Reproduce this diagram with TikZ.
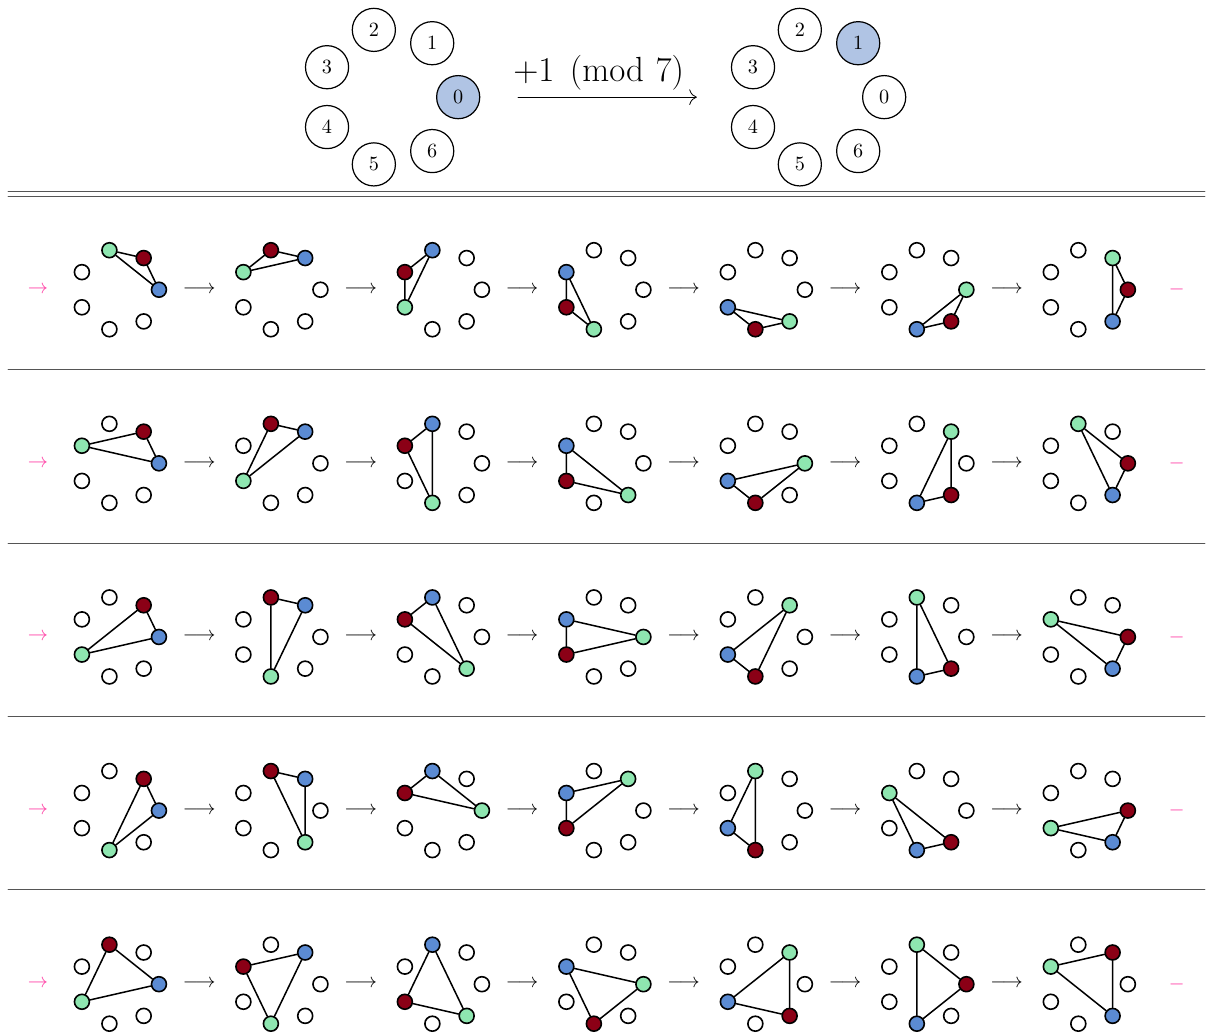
\documentclass[tikz,border=0pt]{standalone}
\usepackage{amsmath}
\usetikzlibrary{arrows.meta}
\definecolor{softblue}{HTML}{B0C4E4}
\definecolor{vblue}{HTML}{5B8BD3}
\definecolor{vred}{HTML}{8B0016}
\definecolor{vgreen}{HTML}{8EE6B0}
\definecolor{wrap}{HTML}{FF3FA4}
\definecolor{rulegray}{HTML}{555555}
\begin{document}
\begin{tikzpicture}[line cap=round,
  bignode/.style={circle, draw, line width=0.6pt, minimum size=0.75cm, inner sep=0pt},
  dot/.style={circle, draw, line width=0.8pt, minimum size=0.26cm, inner sep=0pt},
  edge/.style={line width=0.75pt},
  sep/.style={rulegray, line width=0.5pt}]
  \useasboundingbox (0,0) rectangle (21.1,17.99);
  % top: one step of the rotation
  \foreach \k/\fa/\fb in {0/softblue/white, 1/white/softblue, 2/white/white, 3/white/white, 4/white/white, 5/white/white, 6/white/white}
    {\node[bignode, fill=\fa] (a\k) at ({6.77+1.2*cos(360/7*\k)},{16.30+1.2*sin(360/7*\k)}) {$\k$};
     \node[bignode, fill=\fb] (b\k) at ({14.18+1.2*cos(360/7*\k)},{16.30+1.2*sin(360/7*\k)}) {$\k$};}
  \coordinate (mapL) at (9.01,16.30);
  \coordinate (mapR) at (12.12,16.30);
  \draw[line width=0.4pt, -{To[length=1.3mm]}] (mapL) -- node[above, font=\LARGE, xshift=-1.5mm] (maplbl) {$+1 \pmod 7$} (mapR);
  % rules
  \draw[sep] (0.14,14.65) -- (20.96,14.65);
  \draw[sep] (0.14,14.58) -- (20.96,14.58);
  \foreach \y in {11.57,8.54,5.535,2.51} \draw[sep] (0.14,\y) -- (20.96,\y);
  % rows: a triangle and its six rotations
  \foreach \i/\pb/\pr/\pg in {1/0/1/2, 2/0/1/3, 3/0/1/4, 4/0/1/5, 5/0/2/4}
   {\pgfmathsetmacro{\yy}{12.95-3.02*(\i-1)}
    \node[text=wrap] (in\i) at (0.66,\yy) {$\rightarrow$};
    \node[text=wrap] (out\i) at (20.47,\yy) {$-$};
    \foreach \j in {0,...,6}
     {\pgfmathsetmacro{\xx}{2.06+2.809*\j}
      \pgfmathtruncatemacro{\ib}{mod(\pb+\j,7)}
      \pgfmathtruncatemacro{\ir}{mod(\pr+\j,7)}
      \pgfmathtruncatemacro{\ig}{mod(\pg+\j,7)}
      \foreach \k in {0,...,6}
        {\def\fc{white}
         \ifnum\k=\ib \def\fc{vblue}\fi
         \ifnum\k=\ir \def\fc{vred}\fi
         \ifnum\k=\ig \def\fc{vgreen}\fi
         \node[dot, fill=\fc] (v\i-\j-\k) at ({\xx+0.705*cos(360/7*\k)},{\yy+0.705*sin(360/7*\k)}) {};}
      \draw[edge] (v\i-\j-\ib) -- (v\i-\j-\ir) (v\i-\j-\ir) -- (v\i-\j-\ig) (v\i-\j-\ig) -- (v\i-\j-\ib);}
    \foreach \j in {0,...,5}
      \node (step\i-\j) at ({3.465+2.809*\j},\yy) {$\longrightarrow$};}
\end{tikzpicture}
\end{document}
